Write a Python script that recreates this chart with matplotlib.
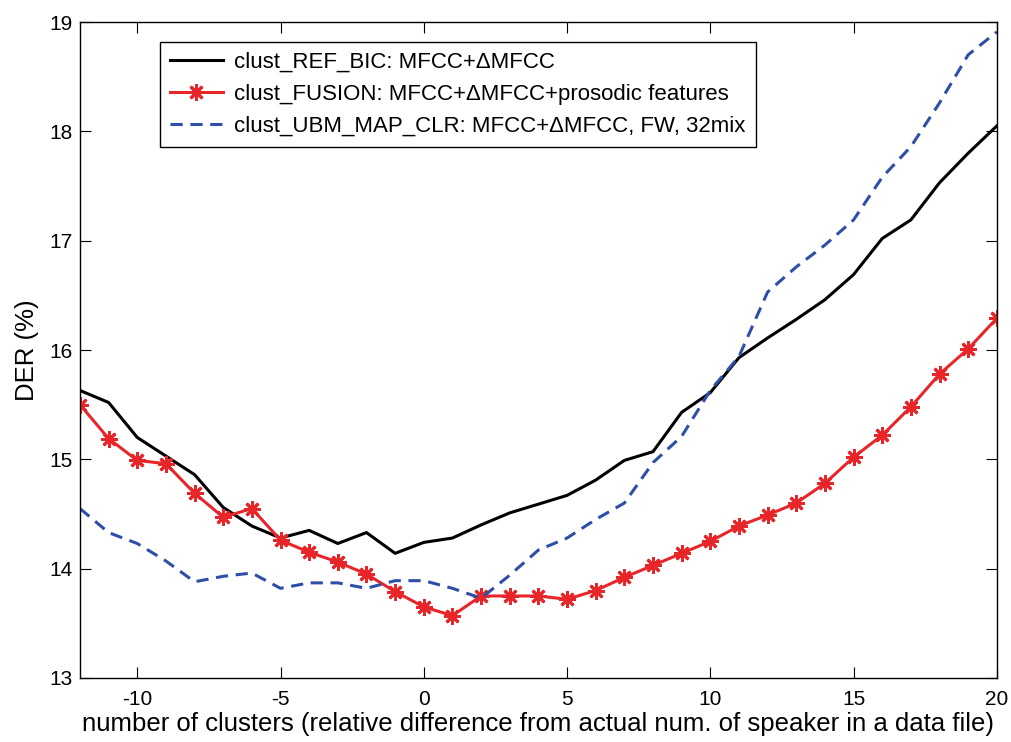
import numpy as np
import matplotlib.pyplot as plt

plt.rcParams['font.family'] = ['Liberation Sans', 'DejaVu Sans']
plt.rcParams['axes.unicode_minus'] = False

# relative number of clusters
clusters = list(range(-12, 21))

# DER (%) per system
der_ref_bic = [15.63, 15.52, 15.20, 15.03, 14.86, 14.56, 14.39, 14.28, 14.35, 14.23,
               14.33, 14.14, 14.24, 14.28, 14.40, 14.51, 14.59, 14.67, 14.81, 14.99,
               15.07, 15.43, 15.61, 15.93, 16.11, 16.28, 16.46, 16.69, 17.02, 17.19,
               17.53, 17.80, 18.05]
der_fusion = [15.50, 15.19, 14.99, 14.96, 14.69, 14.47, 14.55, 14.26, 14.15, 14.06,
              13.95, 13.79, 13.65, 13.57, 13.75, 13.75, 13.75, 13.72, 13.80, 13.92,
              14.03, 14.14, 14.25, 14.39, 14.49, 14.60, 14.78, 15.02, 15.22, 15.48,
              15.78, 16.01, 16.29]
der_ubm = [14.55, 14.33, 14.23, 14.07, 13.88, 13.93, 13.96, 13.82, 13.87, 13.87,
           13.82, 13.89, 13.89, 13.82, 13.73, 13.94, 14.17, 14.28, 14.45, 14.60,
           14.97, 15.21, 15.63, 15.94, 16.53, 16.76, 16.96, 17.19, 17.58, 17.86,
           18.26, 18.70, 18.91]

fig = plt.figure(figsize=(10.12, 7.42), dpi=100)
ax = fig.add_axes([0.079, 0.0863, 0.906, 0.884])

ax.plot(clusters, der_ref_bic, color='black', linewidth=2.2,
        label='clust_REF_BIC: MFCC+ΔMFCC')
ax.plot(clusters, der_fusion, color='#e8262a', linewidth=2.2, marker=(8, 2, 0),
        markersize=12, markeredgewidth=2,
        label='clust_FUSION: MFCC+ΔMFCC+prosodic features')
ax.plot(clusters, der_ubm, color='#2e4fa8', linewidth=2.2, linestyle=(0, (4, 2.5)),
        label='clust_UBM_MAP_CLR: MFCC+ΔMFCC, FW, 32mix')

ax.set_xlim(-12, 20)
ax.set_ylim(13, 19)
ax.set_xticks([-10, -5, 0, 5, 10, 15, 20])
ax.set_yticks([13, 14, 15, 16, 17, 18, 19])
ax.tick_params(direction='in', top=True, right=True, labelsize=15, length=8)
ax.tick_params(axis='x', pad=9)
ax.tick_params(axis='y', pad=5)
for s in ax.spines.values():
    s.set_linewidth(1)

ax.set_xlabel('number of clusters (relative difference from actual num. of speaker in a data file)',
              fontsize=18.5, labelpad=2)
ax.set_ylabel('DER (%)', fontsize=18.5, labelpad=8)

leg = ax.legend(loc='upper left', bbox_to_anchor=(0.087, 0.97), fontsize=16,
                fancybox=False, edgecolor='black', framealpha=1, borderaxespad=0,
                handlelength=2.4, handletextpad=0.5, borderpad=0.45, labelspacing=0.5)
leg.get_frame().set_linewidth(1)

plt.savefig('out.png')
